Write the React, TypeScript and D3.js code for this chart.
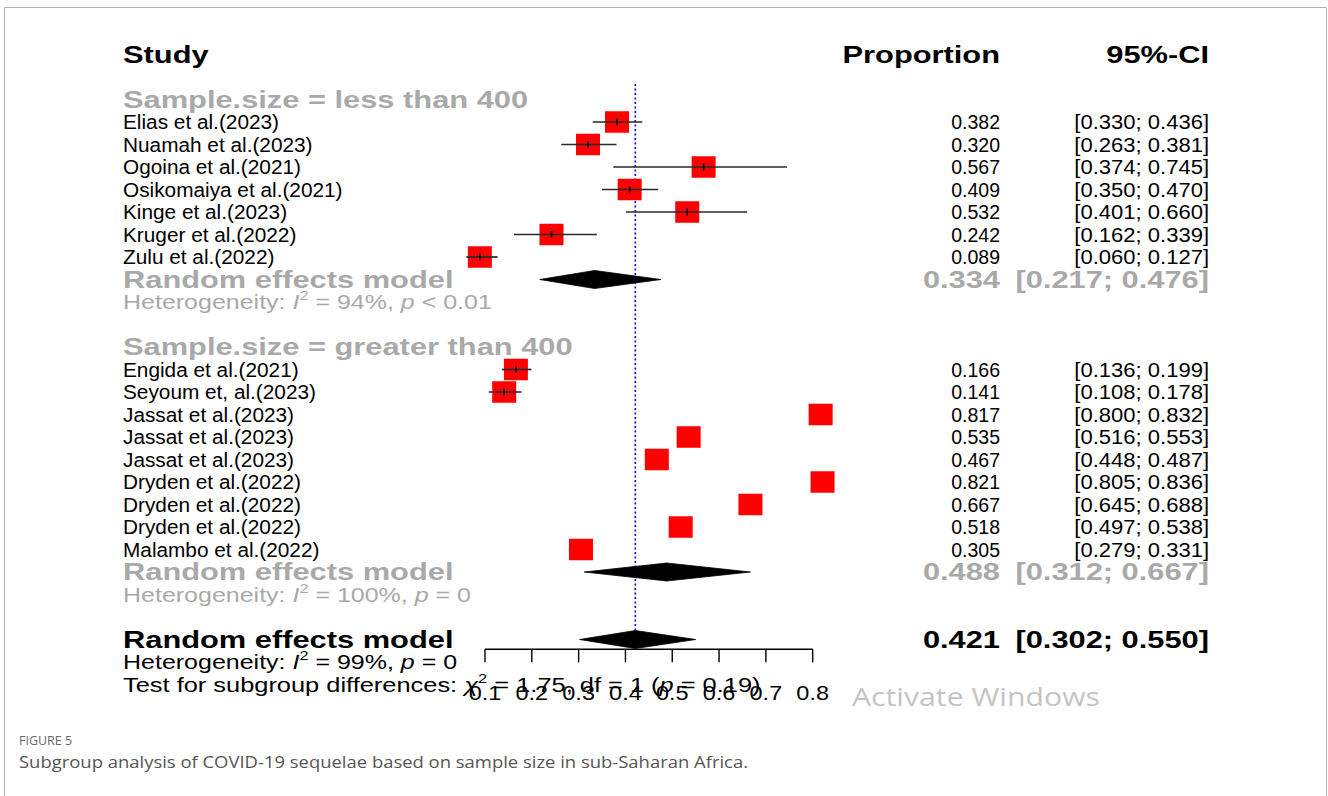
import React from "react";
import * as d3 from "d3";

// ---------- data ----------
const group1Studies = [
  "Elias et al.(2023)",
  "Nuamah et al.(2023)",
  "Ogoina et al.(2021)",
  "Osikomaiya et al.(2021)",
  "Kinge et al.(2023)",
  "Kruger et al.(2022)",
  "Zulu et al.(2022)",
];
const group1Prop = [0.382, 0.32, 0.567, 0.409, 0.532, 0.242, 0.089];
const group1Lower = [0.33, 0.263, 0.374, 0.35, 0.401, 0.162, 0.06];
const group1Upper = [0.436, 0.381, 0.745, 0.47, 0.66, 0.339, 0.127];

const group2Studies = [
  "Engida et al.(2021)",
  "Seyoum et, al.(2023)",
  "Jassat et al.(2023)",
  "Jassat et al.(2023)",
  "Jassat et al.(2023)",
  "Dryden et al.(2022)",
  "Dryden et al.(2022)",
  "Dryden et al.(2022)",
  "Malambo et al.(2022)",
];
const group2Prop = [0.166, 0.141, 0.817, 0.535, 0.467, 0.821, 0.667, 0.518, 0.305];
const group2Lower = [0.136, 0.108, 0.8, 0.516, 0.448, 0.805, 0.645, 0.497, 0.279];
const group2Upper = [0.199, 0.178, 0.832, 0.553, 0.487, 0.836, 0.688, 0.538, 0.331];

const subgroupLabels = ["Sample.size = less than 400", "Sample.size = greater than 400"];
const subgroupEst = [0.334, 0.488];
const subgroupLower = [0.217, 0.312];
const subgroupUpper = [0.476, 0.667];
const subgroupI2 = ["94%", "100%"];
const subgroupP = ["< 0.01", "= 0"];

const overallEst = 0.421;
const overallLower = 0.302;
const overallUpper = 0.55;
const overallI2 = "99%";
const overallP = "= 0";
const testChi2 = "1.75";
const testDf = "1";
const testP = "0.19";

const axisTicks = [0.1, 0.2, 0.3, 0.4, 0.5, 0.6, 0.7, 0.8];

const captionTitle = "FIGURE 5";
const captionText =
  "Subgroup analysis of COVID-19 sequelae based on sample size in sub-Saharan Africa.";

// ---------- layout ----------
const W = 1328;
const H = 796;
const FONT = "'Liberation Sans', Arial, Helvetica, sans-serif";
const GREY = "#a9a9a9";

const x = d3.scaleLinear().domain([0.1, 0.8]).range([485, 812.7]);
const row = d3.scaleLinear().domain([0, 1]).range([99.5, 122]);
const f3 = d3.format(".3f");

type TP = {
  x: number;
  y: number;
  size: number;
  sx?: number;
  anchor?: "start" | "middle" | "end";
  weight?: string | number;
  fill?: string;
  family?: string;
  children?: React.ReactNode;
};

function T({ x, y, size, sx = 1, anchor = "start", weight = "normal", fill = "#000", family = FONT, children }: TP) {
  const base = y + 0.36 * size;
  return (
    <text
      transform={`translate(${x},${base}) scale(${sx},1)`}
      fontSize={size}
      fontFamily={family}
      fontWeight={weight}
      textAnchor={anchor}
      fill={fill}
    >
      {children}
    </text>
  );
}

const LABEL_X = 123;
const PROP_X = 1000;
const CI_X = 1209;
const SQ_W = 24;
const SQ_H = 21.5;

function StudyRow({ label, p, lo, hi, r }: { label: string; p: number; lo: number; hi: number; r: number }) {
  const cy = row(r);
  const cx = x(p);
  const ciW = x(hi) - x(lo);
  const inside = ciW <= SQ_W + 1;
  return (
    <g>
      <T x={LABEL_X} y={cy} size={20} sx={1.04}>{label}</T>
      <T x={PROP_X} y={cy} size={19.5} anchor="end">{f3(p)}</T>
      <T x={CI_X} y={cy} size={19.5} sx={1.13} anchor="end">{`[${f3(lo)}; ${f3(hi)}]`}</T>
      <rect x={cx - SQ_W / 2} y={cy - SQ_H / 2} width={SQ_W} height={SQ_H} fill="#ff0000" />
      <line x1={x(lo)} x2={x(hi)} y1={cy} y2={cy} stroke={inside ? "#ff0000" : "#2a2a2a"} strokeWidth={1.7} />
      {!inside && <line x1={cx} x2={cx} y1={cy - 3.5} y2={cy + 3.5} stroke="#000" strokeWidth={1.6} />}
    </g>
  );
}

function Diamond({ est, lo, hi, r }: { est: number; lo: number; hi: number; r: number }) {
  const cy = row(r);
  const h = 9;
  const pts = [
    [x(lo), cy],
    [x(est), cy - h],
    [x(hi), cy],
    [x(est), cy + h],
  ]
    .map((d) => d.join(","))
    .join(" ");
  return <polygon points={pts} fill="#000" stroke="#000" strokeWidth={0.8} />;
}

function Het({ r, i2, p, fill }: { r: number; i2: string; p: string; fill: string }) {
  return (
    <T x={LABEL_X} y={row(r)} size={20} sx={1.25} fill={fill}>
      {"Heterogeneity: "}
      <tspan fontStyle="italic">I</tspan>
      <tspan fontSize={13} dy={-9}>2</tspan>
      <tspan dy={9}>{` = ${i2}, `}</tspan>
      <tspan fontStyle="italic">p</tspan>
      {` ${p}`}
    </T>
  );
}

function Group({ g, start, studies, props, lows, highs }: { g: number; start: number; studies: string[]; props: number[]; lows: number[]; highs: number[] }) {
  const remRow = start + studies.length + 1;
  return (
    <g>
      <T x={LABEL_X} y={row(start)} size={23} sx={1.34} weight="bold" fill={GREY}>
        {subgroupLabels[g]}
      </T>
      {studies.map((s, i) => (
        <StudyRow key={i} label={s} p={props[i]} lo={lows[i]} hi={highs[i]} r={start + 1 + i} />
      ))}
      <T x={LABEL_X} y={row(remRow)} size={23} sx={1.34} weight="bold" fill={GREY}>
        Random effects model
      </T>
      <T x={PROP_X} y={row(remRow)} size={23} sx={1.34} weight="bold" fill={GREY} anchor="end">
        {f3(subgroupEst[g])}
      </T>
      <T x={CI_X} y={row(remRow)} size={23} sx={1.34} weight="bold" fill={GREY} anchor="end">
        {`[${f3(subgroupLower[g])}; ${f3(subgroupUpper[g])}]`}
      </T>
      <Het r={remRow + 1} i2={subgroupI2[g]} p={subgroupP[g]} fill={GREY} />
      <Diamond est={subgroupEst[g]} lo={subgroupLower[g]} hi={subgroupUpper[g]} r={remRow} />
    </g>
  );
}

export default function App() {
  const g2Start = group1Studies.length + 4;
  const overallRow = g2Start + group2Studies.length + 4;
  const axisY = 649.3;
  return (
    <svg
      width={W}
      height={H}
      viewBox={`0 0 ${W} ${H}`}
      style={{ position: "absolute", left: 0, top: 0, background: "#fff" }}
    >
      <defs>
        <clipPath id="wm">
          <rect x={0} y={0} width={W} height={706} />
        </clipPath>
      </defs>
      <rect x={0} y={0} width={W} height={H} fill="#fff" />
      {/* frame */}
      <path d={`M4.5,${H} V7.5 H1326.5 V${H}`} fill="none" stroke="#b0b0b0" strokeWidth={1} />

      {/* headers */}
      <T x={LABEL_X} y={55} size={23} sx={1.34} weight="bold">Study</T>
      <T x={PROP_X} y={55} size={23} sx={1.34} weight="bold" anchor="end">Proportion</T>
      <T x={CI_X} y={55} size={23} sx={1.34} weight="bold" anchor="end">95%-CI</T>

      {/* reference line */}
      <line
        x1={x(overallEst)}
        x2={x(overallEst)}
        y1={84}
        y2={640}
        stroke="#0000ff"
        strokeWidth={1.6}
        strokeDasharray="2,2.5"
      />

      <Group g={0} start={0} studies={group1Studies} props={group1Prop} lows={group1Lower} highs={group1Upper} />
      <Group g={1} start={g2Start} studies={group2Studies} props={group2Prop} lows={group2Lower} highs={group2Upper} />

      {/* overall */}
      <T x={LABEL_X} y={row(overallRow)} size={23} sx={1.34} weight="bold">Random effects model</T>
      <T x={PROP_X} y={row(overallRow)} size={23} sx={1.34} weight="bold" anchor="end">{f3(overallEst)}</T>
      <T x={CI_X} y={row(overallRow)} size={23} sx={1.34} weight="bold" anchor="end">
        {`[${f3(overallLower)}; ${f3(overallUpper)}]`}
      </T>
      <Diamond est={overallEst} lo={overallLower} hi={overallUpper} r={overallRow} />
      <Het r={overallRow + 1} i2={overallI2} p={overallP} fill="#000" />

      {/* axis */}
      <g>
        <line x1={x(0.1)} x2={x(0.8)} y1={axisY} y2={axisY} stroke="#000" strokeWidth={1.4} />
        {axisTicks.map((t) => (
          <g key={t}>
            <line x1={x(t)} x2={x(t)} y1={axisY} y2={axisY + 13} stroke="#000" strokeWidth={1.4} />
            <T x={x(t)} y={692} size={21} sx={1.12} anchor="middle">{d3.format(".1f")(t)}</T>
          </g>
        ))}
      </g>

      {/* test for subgroup differences */}
      <T x={LABEL_X} y={row(overallRow + 2)} size={20} sx={1.27}>
        {"Test for subgroup differences: "}
        <tspan fontStyle="italic">χ</tspan>
        <tspan fontSize={13} dy={-9}>2</tspan>
        <tspan dy={9}>{` = ${testChi2}, df = ${testDf} (`}</tspan>
        <tspan fontStyle="italic">p</tspan>
        {` = ${testP})`}
      </T>

      {/* watermark */}
      <g clipPath="url(#wm)">
        <text x={852} y={706} fontSize={25} fontFamily="'Open Sans', 'Noto Sans', sans-serif" fill="#c4c4c4" textLength={248} lengthAdjust="spacingAndGlyphs">
          Activate Windows
        </text>
      </g>

      {/* caption */}
      <text x={19} y={745} fontSize={13} fontFamily="'Open Sans', 'Noto Sans', sans-serif" fill="#666" textLength={53} lengthAdjust="spacingAndGlyphs">
        {captionTitle}
      </text>
      <text x={19} y={768} fontSize={17} fontFamily="'Open Sans', 'Noto Sans', sans-serif" fill="#555" textLength={729} lengthAdjust="spacingAndGlyphs">
        {captionText}
      </text>
    </svg>
  );
}
